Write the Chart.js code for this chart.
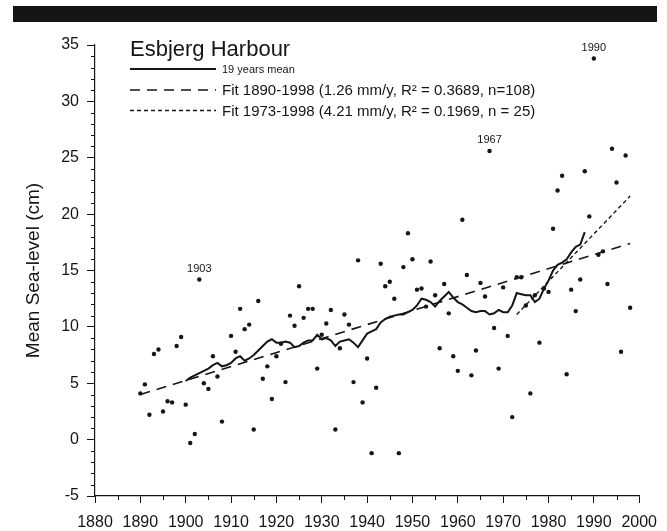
<!DOCTYPE html>
<html>
<head>
<meta charset="utf-8">
<script src="https://cdn.jsdelivr.net/npm/chart.js@4.4.1/dist/chart.umd.min.js"></script>
<style>
  html, body { margin: 0; padding: 0; background: #fff; }
</style>
</head>
<body>
<canvas id="seaLevelChart" width="667" height="531"></canvas>
<script>
  // annual mean sea-level, Esbjerg (1909 has no value)
  const years = [
    1890, 1891, 1892, 1893, 1894, 1895, 1896, 1897, 1898, 1899,
    1900, 1901, 1902, 1903, 1904, 1905, 1906, 1907, 1908,
    1910, 1911, 1912, 1913, 1914, 1915, 1916, 1917, 1918, 1919,
    1920, 1921, 1922, 1923, 1924, 1925, 1926, 1927, 1928, 1929,
    1930, 1931, 1932, 1933, 1934, 1935, 1936, 1937, 1938, 1939,
    1940, 1941, 1942, 1943, 1944, 1945, 1946, 1947, 1948, 1949,
    1950, 1951, 1952, 1953, 1954, 1955, 1956, 1957, 1958, 1959,
    1960, 1961, 1962, 1963, 1964, 1965, 1966, 1967, 1968, 1969,
    1970, 1971, 1972, 1973, 1974, 1975, 1976, 1977, 1978, 1979,
    1980, 1981, 1982, 1983, 1984, 1985, 1986, 1987, 1988, 1989,
    1990, 1991, 1992, 1993, 1994, 1995, 1996, 1997, 1998
  ];
  const seaLevel = [
    4.1, 4.9, 2.2, 7.6, 8.0, 2.5, 3.4, 3.3, 8.3, 9.1,
    3.1, -0.3, 0.5, 14.2, 5.0, 4.5, 7.4, 5.6, 1.6,
    9.2, 7.8, 11.6, 9.8, 10.2, 0.9, 12.3, 5.4, 6.5, 3.6,
    7.4, 8.5, 5.1, 11.0, 10.1, 13.6, 10.8, 11.6, 11.6, 6.3,
    9.3, 10.3, 11.5, 0.9, 8.1, 11.1, 10.2, 5.1, 15.9, 3.3,
    7.2, -1.2, 4.6, 15.6, 13.6, 14.0, 12.5, -1.2, 15.3, 18.3,
    16.0, 13.3, 13.4, 11.8, 15.8, 12.8, 8.1, 13.8, 11.2, 7.4,
    6.1, 19.5, 14.6, 5.7, 7.9, 13.9, 12.7, 25.6, 9.9, 6.3,
    13.5, 9.2, 2.0, 14.4, 14.4, 11.9, 4.1, 12.8, 8.6, 13.4,
    13.1, 18.7, 22.1, 23.4, 5.8, 13.3, 11.4, 14.2, 23.8, 19.8,
    33.8, 16.4, 16.7, 13.8, 25.8, 22.8, 7.8, 25.2, 11.7
  ];

  // 19 years running mean
  const meanYears = [
    1900, 1901, 1902, 1903, 1904, 1905, 1906, 1907, 1908, 1909,
    1910, 1911, 1912, 1913, 1914, 1915, 1916, 1917, 1918, 1919,
    1920, 1921, 1922, 1923, 1924, 1925, 1926, 1927, 1928, 1929,
    1930, 1931, 1932, 1933, 1934, 1935, 1936, 1937, 1938, 1939,
    1940, 1941, 1942, 1943, 1944, 1945, 1946, 1947, 1948, 1949,
    1950, 1951, 1952, 1953, 1954, 1955, 1956, 1957, 1958, 1959,
    1960, 1961, 1962, 1963, 1964, 1965, 1966, 1967, 1968, 1969,
    1970, 1971, 1972, 1973, 1974, 1975, 1976, 1977, 1978, 1979,
    1980, 1981, 1982, 1983, 1984, 1985, 1986, 1987, 1988
  ];
  const meanValues = [
    5.2, 5.5, 5.7, 5.9, 6.1, 6.3, 6.6, 6.8, 6.5, 6.6,
    6.8, 7.2, 7.4, 7.0, 7.2, 7.5, 7.9, 8.3, 8.7, 8.9,
    8.6, 8.6, 8.7, 8.6, 8.2, 8.3, 8.6, 8.8, 8.8, 9.3,
    8.9, 9.0, 8.8, 8.3, 8.7, 8.8, 8.9, 8.6, 8.2, 8.8,
    9.4, 9.6, 9.8, 10.4, 10.7, 10.9, 11.0, 11.1, 11.1, 11.3,
    11.5, 11.9, 12.5, 12.4, 12.2, 11.8, 12.3, 12.7, 13.1, 12.6,
    12.2, 12.0, 11.7, 11.4, 11.3, 11.4, 11.4, 11.1, 11.2, 11.5,
    11.3, 11.3, 11.9, 13.0, 12.9, 12.8, 12.8, 12.2, 12.5, 13.4,
    14.1, 15.0, 15.5, 15.7, 16.0, 16.6, 17.1, 17.3, 18.4
  ];

  // linear fits (end points)
  const fitAllYears = [1890, 1998];
  const fitAllValues = [4.0, 17.4];
  const fitRecentYears = [1973, 1998];
  const fitRecentValues = [11.1, 21.6];

  const labelledYears = [1903, 1967, 1990];

  const chartTitle = 'Esbjerg Harbour';
  const legendLabels = [
    '19 years mean',
    'Fit 1890-1998 (1.26 mm/y, R\u00B2 = 0.3689, n=108)',
    'Fit 1973-1998 (4.21 mm/y, R\u00B2 = 0.1969, n = 25)'
  ];

  const FONT = "'Liberation Sans', Arial, sans-serif";
  const INK = '#151515';

  const toXY = (xs, ys) => xs.map((x, i) => ({ x: x, y: ys[i] }));

  // black bar above the plot
  const topBar = {
    id: 'topBar',
    beforeDraw(chart) {
      const ctx = chart.ctx;
      ctx.save();
      ctx.fillStyle = INK;
      ctx.fillRect(13, 6, 644, 16);
      ctx.restore();
    }
  };

  // minor ticks every 1 cm and every 5 years
  const minorTicks = {
    id: 'minorTicks',
    afterDraw(chart) {
      const { ctx, scales: { x, y }, chartArea } = chart;
      ctx.save();
      ctx.strokeStyle = INK;
      ctx.lineWidth = 1;
      ctx.beginPath();
      for (let v = -5; v <= 35; v++) {
        if (v % 5 === 0) continue;
        const py = Math.round(y.getPixelForValue(v)) + 0.5;
        ctx.moveTo(chartArea.left - 4, py);
        ctx.lineTo(chartArea.left, py);
      }
      for (let yr = 1885; yr < 2000; yr += 10) {
        const px = Math.round(x.getPixelForValue(yr)) + 0.5;
        ctx.moveTo(px, chartArea.bottom);
        ctx.lineTo(px, chartArea.bottom + 4);
      }
      ctx.stroke();
      ctx.restore();
    }
  };

  // year labels above outstanding points
  const pointLabels = {
    id: 'pointLabels',
    afterDatasetsDraw(chart) {
      const { ctx, scales: { x, y } } = chart;
      ctx.save();
      ctx.fillStyle = INK;
      ctx.font = '11px ' + FONT;
      ctx.textAlign = 'center';
      ctx.textBaseline = 'alphabetic';
      labelledYears.forEach(yr => {
        const v = seaLevel[years.indexOf(yr)];
        ctx.fillText(String(yr), x.getPixelForValue(yr), y.getPixelForValue(v) - 8);
      });
      ctx.restore();
    }
  };

  // legend box, drawn like the original figure
  const figureLegend = {
    id: 'figureLegend',
    afterDraw(chart) {
      const ctx = chart.ctx;
      const ds = chart.data.datasets;
      ctx.save();
      ctx.fillStyle = INK;
      ctx.textBaseline = 'alphabetic';
      ctx.font = '22px ' + FONT;
      ctx.fillText(chartTitle, 130, 56);

      const rows = [
        { d: ds[1], y: 69, font: '11px ', base: 73 },
        { d: ds[2], y: 90, font: '15px ', base: 95 },
        { d: ds[3], y: 110.5, font: '15px ', base: 116 }
      ];
      rows.forEach((r, i) => {
        ctx.strokeStyle = INK;
        ctx.lineWidth = r.d.borderWidth;
        ctx.setLineDash(r.d.borderDash || []);
        ctx.beginPath();
        ctx.moveTo(130, r.y);
        ctx.lineTo(216, r.y);
        ctx.stroke();
        ctx.setLineDash([]);
        ctx.font = r.font + FONT;
        ctx.fillText(legendLabels[i], 222, r.base);
      });
      ctx.restore();
    }
  };

  new Chart(document.getElementById('seaLevelChart'), {
    type: 'scatter',
    data: {
      datasets: [{
        label: 'Mean sea-level',
        data: toXY(years, seaLevel),
        showLine: false,
        pointRadius: 2.2,
        pointBorderWidth: 0,
        backgroundColor: INK,
        borderColor: INK
      }, {
        label: legendLabels[0],
        data: toXY(meanYears, meanValues),
        showLine: true,
        pointRadius: 0,
        borderWidth: 2,
        borderColor: INK,
        tension: 0
      }, {
        label: legendLabels[1],
        data: toXY(fitAllYears, fitAllValues),
        showLine: true,
        pointRadius: 0,
        borderWidth: 1.6,
        borderDash: [10, 7],
        borderColor: INK
      }, {
        label: legendLabels[2],
        data: toXY(fitRecentYears, fitRecentValues),
        showLine: true,
        pointRadius: 0,
        borderWidth: 1.4,
        borderDash: [4, 3],
        borderColor: INK
      }]
    },
    options: {
      responsive: false,
      animation: false,
      layout: { padding: { top: 45, right: 26, left: 0, bottom: 0 } },
      plugins: {
        legend: { display: false },
        tooltip: { enabled: false }
      },
      scales: {
        x: {
          type: 'linear',
          min: 1880,
          max: 2000,
          afterFit: s => { s.height = 35; },
          ticks: {
            stepSize: 10,
            color: INK,
            padding: 10,
            maxRotation: 0,
            font: { family: FONT, size: 16 },
            callback: v => String(v)
          },
          grid: { drawOnChartArea: false, tickLength: 7, color: INK, lineWidth: 1 },
          border: { color: INK, width: 1.2 }
        },
        y: {
          min: -5,
          max: 35,
          afterFit: s => { s.width = 95; },
          ticks: {
            stepSize: 5,
            color: INK,
            padding: 8,
            font: { family: FONT, size: 16 }
          },
          grid: { drawOnChartArea: false, tickLength: 8, color: INK, lineWidth: 1 },
          border: { color: INK, width: 1.2 },
          title: {
            display: true,
            text: 'Mean Sea-level (cm)',
            color: INK,
            font: { family: FONT, size: 19 },
            padding: { top: 22, bottom: 0 }
          }
        }
      }
    },
    plugins: [topBar, minorTicks, pointLabels, figureLegend]
  });
</script>
</body>
</html>
